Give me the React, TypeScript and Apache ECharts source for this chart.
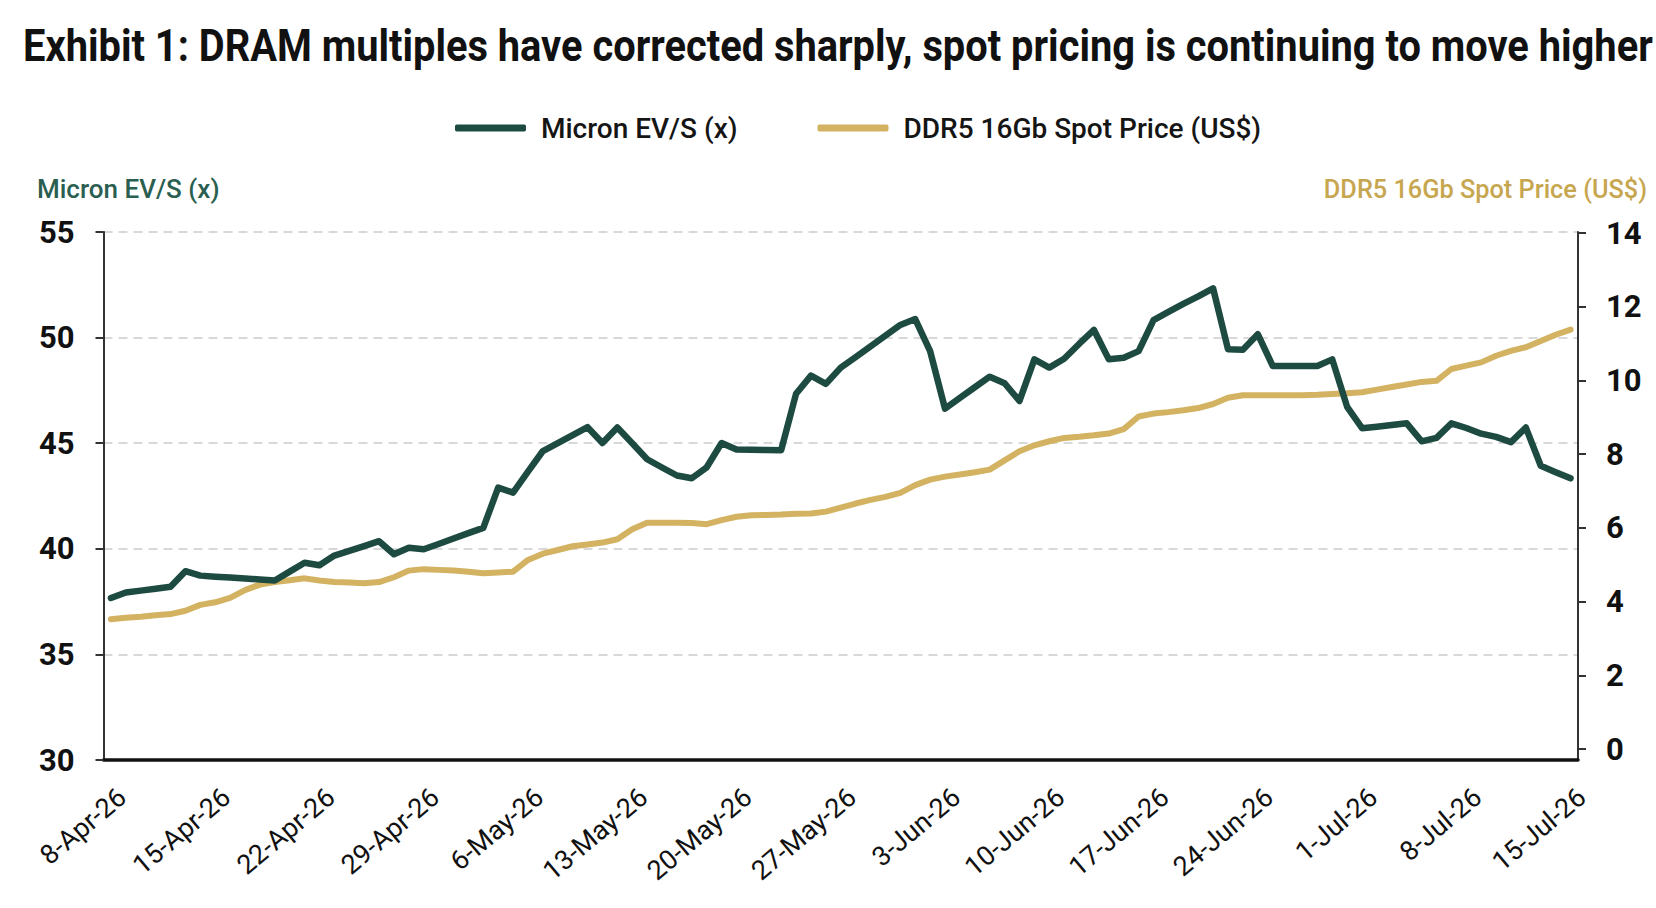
import React, { useEffect, useRef } from "react";
import * as echarts from "echarts";

// ---------- data ----------
const MONTHS = ["Jan", "Feb", "Mar", "Apr", "May", "Jun", "Jul", "Aug", "Sep", "Oct", "Nov", "Dec"];
const DAY_COUNT = 99; // 8-Apr-26 .. 15-Jul-26, daily

function buildDates(): string[] {
  const out: string[] = [];
  for (let i = 0; i < DAY_COUNT; i++) {
    const d = new Date(Date.UTC(2026, 3, 8 + i));
    out.push(`${d.getUTCDate()}-${MONTHS[d.getUTCMonth()]}-26`);
  }
  return out;
}
const dates = buildDates();

const micronEvS = [
  37.67, 37.93, 38.02, 38.11, 38.2, 38.94, 38.73, 38.68, 38.64, 38.59,
  38.55, 38.5, 38.92, 39.34, 39.22, 39.68, 39.9, 40.13, 40.36, 39.74,
  40.05, 39.98, 40.23, 40.49, 40.74, 40.99, 42.9, 42.66, 43.65, 44.63,
  45.0, 45.38, 45.76, 45.01, 45.74, 45.0, 44.24, 43.85, 43.47, 43.34,
  43.86, 45.01, 44.7, 44.69, 44.68, 44.67, 47.34, 48.2, 47.81, 48.58,
  49.08, 49.59, 50.09, 50.6, 50.88, 49.36, 46.64, 47.15, 47.65, 48.15,
  47.84, 47.0, 48.97, 48.58, 49.0, 49.7, 50.36, 48.97, 49.05, 49.36,
  50.83, 51.22, 51.6, 51.95, 52.33, 49.45, 49.43, 50.16, 48.66, 48.66,
  48.66, 48.66, 48.97, 46.72, 45.71, 45.78, 45.86, 45.94, 45.09, 45.25,
  45.94, 45.72, 45.45, 45.3, 45.05, 45.74, 43.93, 43.63, 43.34,
];

const ddr5SpotPrice = [
  3.52, 3.56, 3.59, 3.63, 3.66, 3.75, 3.91, 3.98, 4.1, 4.31,
  4.46, 4.53, 4.58, 4.63, 4.57, 4.53, 4.52, 4.5, 4.53, 4.66,
  4.84, 4.88, 4.86, 4.84, 4.81, 4.77, 4.79, 4.81, 5.13, 5.3,
  5.4, 5.5, 5.55, 5.6, 5.69, 5.96, 6.14, 6.14, 6.14, 6.13,
  6.1, 6.21, 6.3, 6.34, 6.35, 6.36, 6.38, 6.39, 6.44, 6.55,
  6.66, 6.76, 6.84, 6.95, 7.16, 7.31, 7.39, 7.45, 7.51, 7.58,
  7.83, 8.08, 8.24, 8.35, 8.44, 8.47, 8.51, 8.56, 8.68, 9.02,
  9.1, 9.14, 9.19, 9.25, 9.36, 9.53, 9.6, 9.6, 9.6, 9.6,
  9.6, 9.61, 9.63, 9.65, 9.68, 9.75, 9.82, 9.89, 9.96, 9.99,
  10.31, 10.4, 10.49, 10.67, 10.8, 10.9, 11.07, 11.24, 11.38,
];

const SERIES_NAMES = ["Micron EV/S (x)", "DDR5 16Gb Spot Price (US$)"];
const TITLE = "Exhibit 1: DRAM multiples have corrected sharply, spot pricing is continuing to move higher";
const LEFT_AXIS = { min: 30, max: 55, interval: 5 };
const RIGHT_AXIS = { min: 0, max: 14, interval: 2 };

// ---------- style ----------
const GREEN = "#1e4b41";
const GOLD = "#d3b262";
const GREEN_TEXT = "#2a5e50";
const GOLD_TEXT = "#c7a650";
const SANS = "Roboto, 'Noto Sans', sans-serif";
const TITLE_FONT = `bold 45px ${SANS}`;
const TITLE_WIDTH = 1630;

function measure(text: string, font: string): number {
  const c = document.createElement("canvas").getContext("2d");
  if (!c) return TITLE_WIDTH;
  c.font = font;
  return c.measureText(text).width || TITLE_WIDTH;
}

export default function App() {
  const ref = useRef<HTMLDivElement>(null);

  useEffect(() => {
    if (!ref.current) return;
    const chart = echarts.init(ref.current, undefined, { renderer: "svg" });
    const titleScale = TITLE_WIDTH / measure(TITLE, TITLE_FONT);

    const option: any = {
      animation: false,
      backgroundColor: "#ffffff",
      graphic: [
        {
          type: "text",
          x: 23,
          y: 46,
          scaleX: titleScale,
          style: {
            text: TITLE,
            font: TITLE_FONT,
            fill: "#111111",
            verticalAlign: "middle",
            align: "left",
          },
        },
        {
          type: "text",
          x: 37,
          y: 189,
          style: {
            text: SERIES_NAMES[0],
            font: `500 26px ${SANS}`,
            fill: GREEN_TEXT,
            verticalAlign: "middle",
            align: "left",
          },
        },
        {
          type: "text",
          x: 1647,
          y: 189,
          style: {
            text: SERIES_NAMES[1],
            font: `500 25.3px ${SANS}`,
            fill: GOLD_TEXT,
            verticalAlign: "middle",
            align: "right",
          },
        },
      ],
      legend: {
        left: 450,
        top: 109,
        itemWidth: 71,
        itemHeight: 7,
        itemGap: 80,
        icon: "roundRect",
        textStyle: {
          fontFamily: SANS,
          fontSize: 28,
          fontWeight: 500,
          color: "#151515",
          padding: [0, 0, 0, 10],
        },
        data: SERIES_NAMES,
      },
      grid: [
        { left: 103.5, right: 78, top: 232, height: 528 },
        { left: 103.5, right: 78, top: 233, height: 516 },
      ],
      xAxis: [
        {
          type: "category",
          gridIndex: 0,
          data: dates,
          boundaryGap: true,
          axisLine: { show: true, lineStyle: { color: "#111111", width: 3.5 } },
          axisTick: { show: false },
          axisLabel: {
            interval: 6,
            rotate: 40,
            margin: 43,
            padding: [0, -15, 0, 0],
            fontFamily: SANS,
            fontSize: 27,
            color: "#111111",
          },
          splitLine: { show: false },
        },
        {
          type: "category",
          gridIndex: 1,
          data: dates,
          boundaryGap: true,
          show: false,
        },
      ],
      yAxis: [
        {
          type: "value",
          gridIndex: 0,
          position: "left",
          min: LEFT_AXIS.min,
          max: LEFT_AXIS.max,
          interval: LEFT_AXIS.interval,
          axisLine: { show: true, lineStyle: { color: "#333333", width: 2 } },
          axisTick: { show: true, length: 8, lineStyle: { color: "#333333", width: 2 } },
          axisLabel: {
            margin: 29,
            fontFamily: SANS,
            fontWeight: "bold",
            fontSize: 31,
            color: "#111111",
          },
          splitLine: {
            show: true,
            lineStyle: { color: "#cccccc", width: 1.5, type: [9, 6] },
          },
        },
        {
          type: "value",
          gridIndex: 1,
          position: "right",
          min: RIGHT_AXIS.min,
          max: RIGHT_AXIS.max,
          interval: RIGHT_AXIS.interval,
          axisLine: { show: true, lineStyle: { color: "#333333", width: 2 } },
          axisTick: { show: true, length: 8, lineStyle: { color: "#333333", width: 2 } },
          axisLabel: {
            margin: 28,
            fontFamily: SANS,
            fontWeight: "bold",
            fontSize: 31,
            color: "#111111",
          },
          splitLine: { show: false },
        },
        {
          type: "value",
          gridIndex: 0,
          position: "right",
          min: 0,
          max: 1,
          axisLine: { show: true, lineStyle: { color: "#333333", width: 2 } },
          axisTick: { show: false },
          axisLabel: { show: false },
          splitLine: { show: false },
        },
      ],
      series: [
        {
          name: SERIES_NAMES[0],
          type: "line",
          xAxisIndex: 0,
          yAxisIndex: 0,
          data: micronEvS,
          showSymbol: false,
          symbol: "none",
          color: GREEN,
          lineStyle: { color: GREEN, width: 6.5, cap: "round", join: "round" },
          z: 3,
        },
        {
          name: SERIES_NAMES[1],
          type: "line",
          xAxisIndex: 1,
          yAxisIndex: 1,
          data: ddr5SpotPrice,
          showSymbol: false,
          symbol: "none",
          color: GOLD,
          lineStyle: { color: GOLD, width: 6, cap: "round", join: "round" },
          z: 2,
        },
      ],
    };

    chart.setOption(option);
    return () => chart.dispose();
  }, []);

  return (
    <div
      ref={ref}
      style={{ position: "fixed", left: 0, top: 0, width: 1656, height: 908, background: "#fff" }}
    />
  );
}
